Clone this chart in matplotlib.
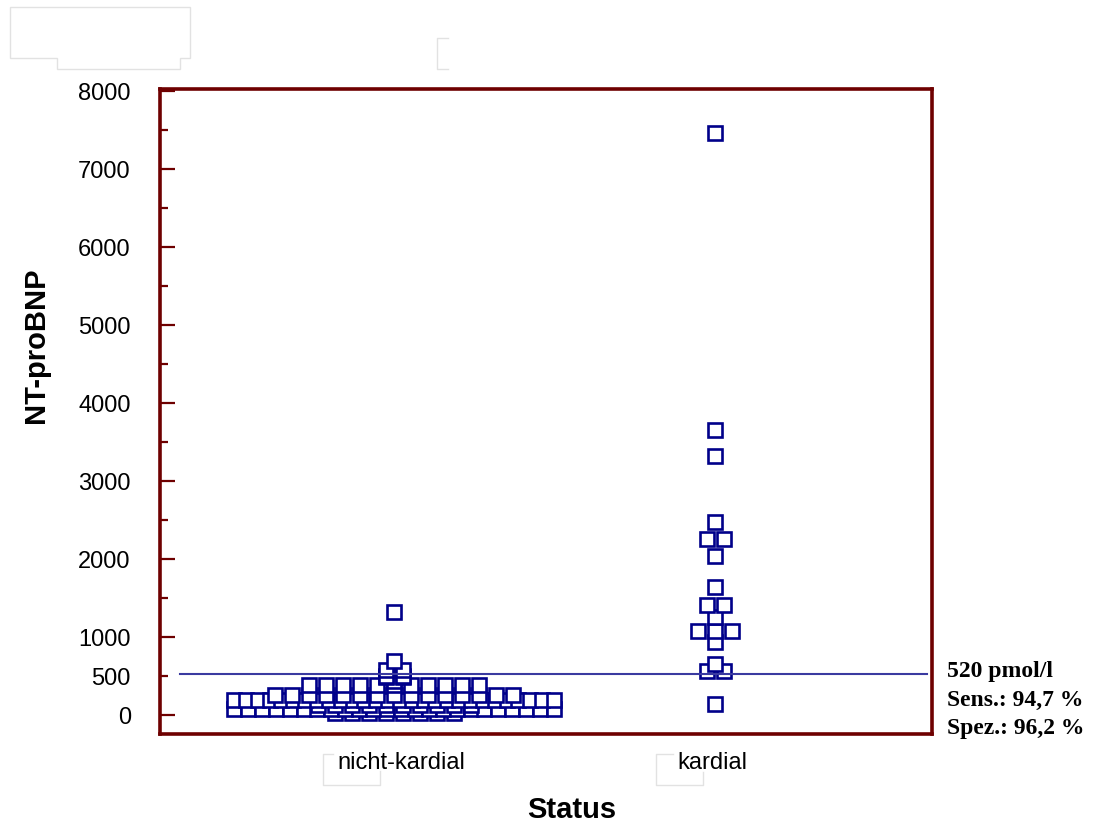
import numpy as np
import matplotlib.pyplot as plt
from matplotlib.patches import Rectangle, Polygon
from matplotlib.lines import Line2D

# NT-proBNP dot plot, nicht-kardial vs. kardial, with 520 pmol/l cut-off

categories = ["nicht-kardial", "kardial"]

# values are stacked in rows: level + number of patients at that level
nk_levels = [20, 70, 130, 190, 260, 385, 440, 480, 505, 577, 692, 1320]
nk_counts = [8, 24, 10, 28, 15, 11, 1, 2, 2, 2, 1, 1]

k_levels = [141, 564, 654, 936, 1077, 1256, 1410, 1641, 2038, 2256, 2474, 3320, 3654, 7455]
k_counts = [1, 2, 1, 1, 3, 1, 2, 1, 1, 2, 1, 1, 1, 1]

cutoff = 520
info_lines = ["520 pmol/l", "Sens.: 94,7 %", "Spez.: 96,2 %"]

W, H = 1097, 829
PX = 321.0  # pixels per category unit


def dot_layout(pos, levels, counts):
    xs, ys = [], []
    for lev, n in zip(levels, counts):
        step = 17.0 if n < 2 else min(17.0, 320.0 / (n - 1))
        offs = (np.arange(n) - (n - 1) / 2.0) * step / PX
        xs.extend(pos + offs)
        ys.extend([lev] * n)
    return np.array(xs), np.array(ys)


plt.rcParams['font.family'] = ['Liberation Sans', 'DejaVu Sans']

fig = plt.figure(figsize=(W / 100, H / 100), dpi=100)
ax = fig.add_axes([160 / W, 1 - 735 / H, 772 / W, 645 / H])

frame = "#6e0000"
navy = "#00008a"

for i, (lev, cnt) in enumerate([(nk_levels, nk_counts), (k_levels, k_counts)]):
    x, y = dot_layout(i + 1, lev, cnt)
    ax.plot(x, y, ls="none", marker="s", ms=10, mew=1.9, mfc="white",
            mec=navy, zorder=2.5, clip_on=False)

ax.axhline(cutoff, xmin=20 / 772, xmax=767 / 772, color="#3a3aa0", lw=1.5, zorder=3)

ax.set_xlim(1 - 234 / PX, 2 + 217 / PX)
ax.set_ylim(-245, 8025)

ax.set_xticks([1 + 7 / PX, 2 - 3 / PX], labels=categories, fontsize=17)
ax.tick_params(axis="x", length=0, pad=12)

ax.set_yticks(np.arange(0, 8001, 1000))
ax.set_yticks(np.arange(500, 8000, 1000), labels=["500"] + [""] * 7, minor=True)
ax.tick_params(axis="y", which="both", direction="in", color=frame, width=1.6,
               labelsize=17, pad=21)
ax.tick_params(axis="y", which="major", length=11)
ax.tick_params(axis="y", which="minor", length=6)

for s in ax.spines.values():
    s.set_color(frame)
    s.set_linewidth(2.6)

ax.set_ylabel("NT-proBNP", fontsize=21, fontweight="bold")
ax.yaxis.set_label_coords(-0.143, 0.605)
ax.set_xlabel("Status", fontsize=21, fontweight="bold")
ax.xaxis.set_label_coords(0.534, -0.094)

for j, txt in enumerate(info_lines):
    fig.text(947 / W, 1 - (672 + 28.5 * j) / H, txt, ha="left", va="center",
             fontsize=17, fontweight="bold",
             family=["Liberation Serif", "DejaVu Serif"])


# faint grey boxes left over in the original image
def px(x, y):
    return (x / W, 1 - y / H)


ghost = dict(transform=fig.transFigure, color="#e2e2e2", lw=1)
fig.add_artist(Polygon([px(10, 8), px(190, 8), px(190, 59), px(180, 59), px(180, 70),
                        px(57, 70), px(57, 59), px(10, 59)], closed=True, fill=False,
                       ec="#e2e2e2", lw=1, transform=fig.transFigure))
fig.add_artist(Line2D(*zip(px(448, 39), px(437, 39), px(437, 70), px(448, 70)), **ghost))
fig.add_artist(Rectangle(px(646, 182), 76 / W, 61 / H, fill=False, ec="#e2e2e2",
                         lw=1, transform=fig.transFigure, zorder=0))
fig.add_artist(Line2D(*zip(px(333, 755), px(323, 755), px(323, 786), px(380, 786),
                           px(380, 772)), **ghost))
fig.add_artist(Line2D(*zip(px(673, 755), px(656, 755), px(656, 786), px(703, 786),
                           px(703, 773)), **ghost))

plt.savefig("out.png", dpi=100)
